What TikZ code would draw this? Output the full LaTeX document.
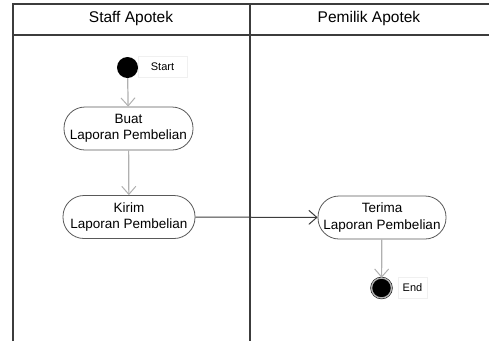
\documentclass[tikz,border=0pt]{standalone}
\usepackage{fontspec}
\setmainfont{Liberation Sans}
\usetikzlibrary{arrows.meta}
\definecolor{lanegray}{HTML}{3C3C3C}
\definecolor{flowgray}{HTML}{B0B0B0}
\begin{document}
\begin{tikzpicture}[x=1pt,y=-1pt,
    lane/.style={draw=lanegray,line width=1.6pt},
    header/.style={font=\fontsize{15.5}{18}\selectfont},
    action/.style={draw=lanegray!85,line width=0.8pt,rounded corners=21pt,
      minimum width=129pt,minimum height=43pt,align=center,inner sep=1pt,
      font=\fontsize{13.5}{16.5}\selectfont},
    startdot/.style={circle,fill=black,inner sep=0pt,minimum size=21pt},
    enddot/.style={circle,fill=black,draw=black,line width=0.5pt,
      double=gray!60,double distance=1.4pt,inner sep=0pt,minimum size=20pt},
    tag/.style={draw=gray!12,line width=0.6pt,fill=white,minimum height=21pt,
      inner sep=2pt,font=\fontsize{11}{13}\selectfont},
    flow/.style={draw=flowgray,line width=1.2pt,
      -{Straight Barb[length=8pt,width=14pt,line width=1pt]}},
    send/.style={draw=lanegray,line width=1pt,
      -{Straight Barb[length=8pt,width=14pt,line width=1pt]}}]
  \useasboundingbox (0,0) rectangle (489,341);
  \draw [lane] (13,341)--(13,4)--(495,4);
  \draw [lane] (13,35)--(495,35);
  \draw [lane] (250,4)--(250,341);
  \node [header] (staff) at (131,18) {Staff Apotek};
  \node [header] (pemilik) at (369,18) {Pemilik Apotek};
  \node [startdot] (start) at (127.5,67.5) {};
  \node [tag,minimum width=49pt] (startlbl) at (162.5,67) {Start};
  \node [action] (buat) at (128.5,128.5) {Buat\\Laporan Pembelian};
  \node [action,minimum width=132pt] (kirim) at (129,217) {Kirim\\Laporan Pembelian};
  \node [action,minimum width=128pt] (terima) at (382,217.5) {Terima\\Laporan Pembelian};
  \node [enddot] (end) at (381.5,288) {};
  \node [tag,minimum width=29pt] (endlbl) at (412.5,288) {End};
  \draw [flow] (start)--(buat);
  \draw [flow] (buat)--(kirim);
  \draw [send] (kirim)--(terima);
  \draw [flow] (terima)--(end);
\end{tikzpicture}
\end{document}
